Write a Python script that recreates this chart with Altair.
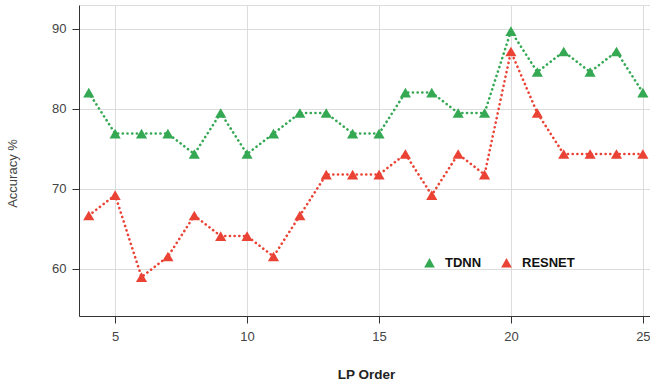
import altair as alt
import pandas as pd

lp_order = list(range(4, 26))
tdnn = [82.05, 76.92, 76.92, 76.92, 74.36, 79.49, 74.36, 76.92, 79.49, 79.49, 76.92,
        76.92, 82.05, 82.05, 79.49, 79.49, 89.74, 84.62, 87.18, 84.62, 87.18, 82.05]
resnet = [66.67, 69.23, 58.97, 61.54, 66.67, 64.10, 64.10, 61.54, 66.67, 71.79, 71.79,
          71.79, 74.36, 69.23, 74.36, 71.79, 87.18, 79.49, 74.36, 74.36, 74.36, 74.36]
series_names = ["TDNN", "RESNET"]
series_colors = ["#34A853", "#EA4335"]
x_ticks = [5, 10, 15, 20, 25]
y_ticks = [60, 70, 80, 90]

rows = []
for name, vals in zip(series_names, [tdnn, resnet]):
    for x, v in zip(lp_order, vals):
        rows.append({"LP Order": x, "Accuracy": v, "Model": name})
df = pd.DataFrame(rows)

FONT = "Liberation Sans"

x_enc = alt.X("LP Order:Q", scale=alt.Scale(domain=[3.63, 25.27], nice=False, zero=False),
              axis=alt.Axis(values=x_ticks, title="LP Order", titleFontWeight="bold",
                            titleFontSize=13.5, titleColor="#222", titleX=287, titleY=58,
                            titleBaseline="middle", titleAlign="center",
                            labelFontSize=13, labelColor="#444", labelPadding=7,
                            tickSize=7, tickColor="#333", domainColor="#333",
                            gridColor="#dcdcdc", labelFont=FONT, titleFont=FONT))
y_enc = alt.Y("Accuracy:Q", scale=alt.Scale(domain=[54.1, 93], nice=False, zero=False),
              axis=alt.Axis(values=y_ticks, title="Accuracy %", titleFontWeight="normal",
                            titleFontSize=13, titleColor="#444", titleX=-66.5, titleY=168,
                            titleBaseline="middle", titleAlign="center", titleAngle=-90,
                            labelFontSize=13, labelColor="#444", labelPadding=6,
                            tickSize=7, tickColor="#333", domainColor="#333",
                            gridColor="#dcdcdc", labelFont=FONT, titleFont=FONT))

lines = alt.Chart(df).mark_line(strokeDash=[0.1, 4.6], strokeCap="round", strokeWidth=2.6).encode(
    x=x_enc, y=y_enc,
    stroke=alt.Stroke("Model:N", scale=alt.Scale(domain=series_names, range=series_colors),
                      legend=None),
    detail="Model:N",
)
points = alt.Chart(df).mark_point(shape="triangle-up", filled=True, size=125, opacity=1).encode(
    x=x_enc, y=y_enc,
    color=alt.Color("Model:N", scale=alt.Scale(domain=series_names, range=series_colors),
                    legend=alt.Legend(title=None, orient="none", legendX=344, legendY=251,
                                      direction="horizontal", columns=2, symbolType="triangle-up",
                                      symbolSize=115, labelFont=FONT, labelFontSize=13,
                                      labelFontWeight="bold", labelColor="#111",
                                      labelOffset=9, columnPadding=18, padding=0,
                                      symbolStrokeWidth=0, symbolOpacity=1)),
)

chart = alt.layer(lines, points).resolve_scale(color="independent").properties(
    width=571, height=311,
    padding={"left": 79, "top": 5, "right": 0, "bottom": 69},
    autosize=alt.AutoSizeParams(type="none"),
).configure_view(stroke=None).configure(background="white")

chart.save("out.html", embed_options={"renderer": "svg", "actions": False})
